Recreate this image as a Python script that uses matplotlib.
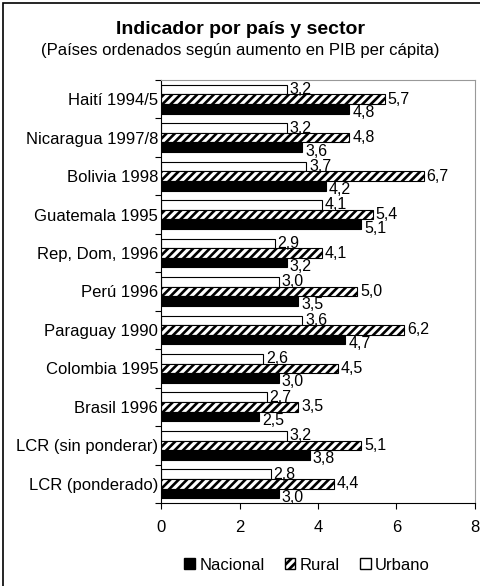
import matplotlib
matplotlib.use('Agg')
import matplotlib.pyplot as plt
import matplotlib.patches as mpatches
import numpy as np

plt.rcParams['font.family'] = ['Liberation Sans', 'DejaVu Sans']
plt.rcParams['hatch.linewidth'] = 1.9

# datos (de arriba hacia abajo)
paises = ['Haití 1994/5', 'Nicaragua 1997/8', 'Bolivia 1998', 'Guatemala 1995',
          'Rep, Dom, 1996', 'Perú 1996', 'Paraguay 1990', 'Colombia 1995',
          'Brasil 1996', 'LCR (sin ponderar)', 'LCR (ponderado)']
urbano = [3.2, 3.2, 3.7, 4.1, 2.9, 3.0, 3.6, 2.6, 2.7, 3.2, 2.8]
rural = [5.7, 4.8, 6.7, 5.4, 4.1, 5.0, 6.2, 4.5, 3.5, 5.1, 4.4]
nacional = [4.8, 3.6, 4.2, 5.1, 3.2, 3.5, 4.7, 3.0, 2.5, 3.8, 3.0]
xticks = [0, 2, 4, 6, 8]


def fmt(v):
    return ('%.1f' % v).replace('.', ',')


fig = plt.figure(figsize=(4.8, 5.86), dpi=100)
ax = fig.add_axes([161/480, 1 - 503/586, 314/480, 423/586])

n = len(paises)
y = np.arange(n)
h = 0.25
series = [
    (urbano, -h, dict(color='white', edgecolor='black'), 'Urbano', 0.0),
    (rural, 0.0, dict(color='white', edgecolor='black', hatch='////'), 'Rural', 0.0),
    (nacional, h, dict(color='black', edgecolor='black'), 'Nacional', 0.1),
]
for vals, off, style, lab, dy in series:
    ax.barh(y + off, vals, height=h, linewidth=0.8, label=lab, **style)
    for yi, v in zip(y, vals):
        ax.text(v + 0.07, yi + off + dy, fmt(v), va='center', ha='left', fontsize=11.5)

ax.set_ylim(n - 0.5, -0.5)
ax.set_xlim(0, 8)
ax.set_xticks(xticks)
ax.set_xticklabels([str(t) for t in xticks], fontsize=12)
ax.set_yticks(np.arange(n + 1) - 0.5)
ax.set_yticklabels([])
ax.set_yticks(y, minor=True)
ax.set_yticklabels(paises, minor=True, fontsize=12)
ax.tick_params(axis='y', which='major', direction='out', length=4, width=0.8)
ax.tick_params(axis='y', which='minor', length=0, pad=2)
ax.tick_params(axis='x', direction='out', length=4, width=0.8, pad=8)
for s in ['top', 'right']:
    ax.spines[s].set_color('#999999')
    ax.spines[s].set_linewidth(0.8)
for s in ['left', 'bottom']:
    ax.spines[s].set_color('black')
    ax.spines[s].set_linewidth(0.8)

fig.text(0.5, 1 - 30/586, 'Indicador por país y sector', ha='center', va='center',
         fontsize=14, fontweight='bold')
fig.text(0.5, 1 - 50/586, '(Países ordenados según aumento en PIB per cápita)',
         ha='center', va='center', fontsize=12)

handles = [mpatches.Patch(facecolor='black', edgecolor='black', label='Nacional'),
           mpatches.Patch(facecolor='white', edgecolor='black', hatch='////', label='Rural'),
           mpatches.Patch(facecolor='white', edgecolor='black', label='Urbano')]
fig.legend(handles=handles, loc='center', bbox_to_anchor=(307/480, 1 - 565/586), ncol=3,
           frameon=False, fontsize=12, handlelength=0.65, handleheight=0.65,
           handletextpad=0.25, columnspacing=1.2)

fig.patches.append(mpatches.Rectangle((3/480, -0.01), 1.0, 1 - 3/586 + 0.01,
                                      transform=fig.transFigure, fill=False,
                                      edgecolor='black', linewidth=1.2))

fig.savefig('out.png', dpi=100)
